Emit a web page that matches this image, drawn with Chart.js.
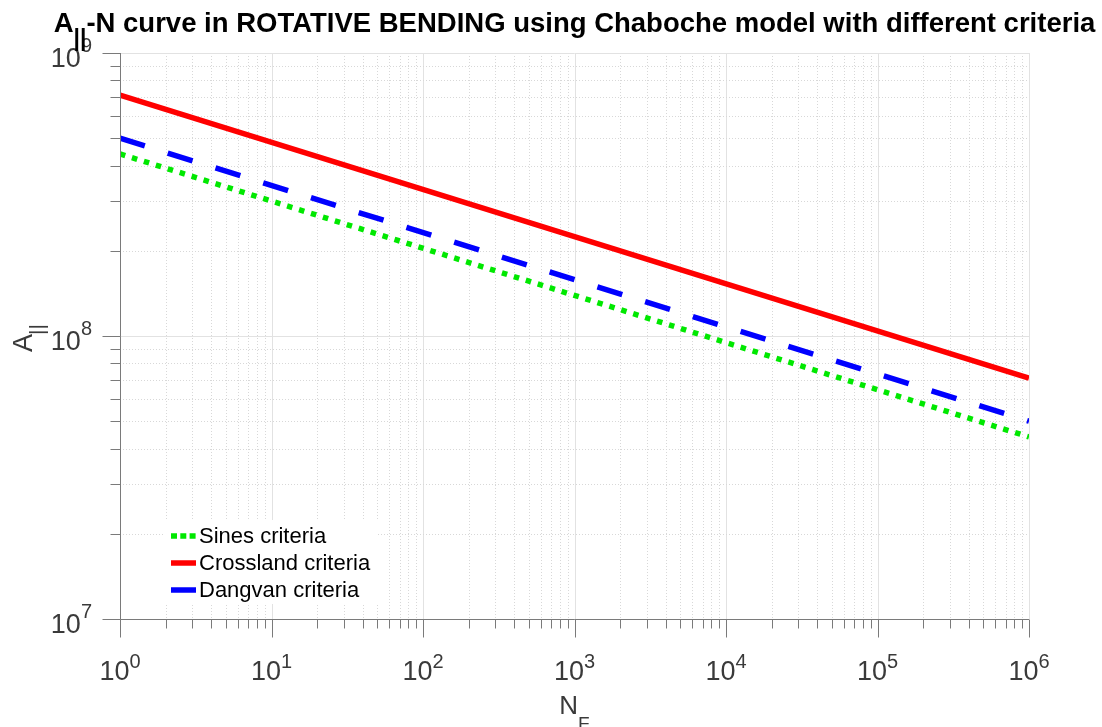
<!DOCTYPE html>
<html>
<head>
<meta charset="utf-8">
<script src="https://cdn.jsdelivr.net/npm/chart.js@4/dist/chart.umd.min.js"></script>
<style>
  html, body { margin: 0; padding: 0; background: #fff; }
  #snChart { display: block; }
</style>
</head>
<body>
<canvas id="snChart" width="1102" height="727"></canvas>
<script>
// number of cycles to failure (x) and amplitude values (y) per criterion
var cycles = [1, 1e6];
var sinesValues = [4.4e8, 4.4e7];
var crosslandValues = [7.1e8, 7.1e7];
var dangvanValues = [5.0e8, 5.0e7];

// decade exponents shown on each axis
var xTickExponents = [0, 1, 2, 3, 4, 5, 6];
var yTickExponents = [7, 8, 9];

var seriesNames = ['Sines criteria', 'Crossland criteria', 'Dangvan criteria'];

var FONT = '"Liberation Sans", Arial, Helvetica, sans-serif';
var AXIS_COLOR = '#7a7a7a';
var LABEL_COLOR = '#3a3a3a';

function toPoints(values) {
    return cycles.map(function (c, i) { return { x: c, y: values[i] }; });
}

// every 1..9 multiple inside the decades of an axis
function logGridValues(exps) {
    var out = [];
    for (var i = 0; i < exps.length; i++) {
        var e = exps[i];
        if (i === exps.length - 1) { out.push({ v: Math.pow(10, e), major: true }); break; }
        for (var m = 1; m <= 9; m++) {
            out.push({ v: m * Math.pow(10, e), major: m === 1 });
        }
    }
    return out;
}

// base + superscript, e.g. 10^3
function powWidth(ctx, base, exp, size, supSize) {
    ctx.font = size + 'px ' + FONT;
    var w1 = ctx.measureText(base).width;
    ctx.font = supSize + 'px ' + FONT;
    return w1 + ctx.measureText(exp).width;
}
function drawPow(ctx, base, exp, x, y, size, supSize, raise) {
    ctx.textAlign = 'left';
    ctx.textBaseline = 'alphabetic';
    ctx.font = size + 'px ' + FONT;
    ctx.fillText(base, x, y);
    var w1 = ctx.measureText(base).width;
    ctx.font = supSize + 'px ' + FONT;
    ctx.fillText(exp, x + w1, y - raise);
}

var logAxesPlugin = {
    id: 'logAxes',
    beforeDatasetsDraw: function (chart) {
        var ctx = chart.ctx;
        var area = chart.chartArea;
        var xs = chart.scales.x, ys = chart.scales.y;
        ctx.save();
        ctx.lineWidth = 1;
        logGridValues(xTickExponents).forEach(function (t) {
            var px = Math.round(xs.getPixelForValue(t.v)) + 0.5;
            ctx.strokeStyle = t.major ? '#e2e2e2' : '#d8d8d8';
            ctx.setLineDash(t.major ? [] : [1, 2]);
            ctx.beginPath();
            ctx.moveTo(px, area.top);
            ctx.lineTo(px, area.bottom);
            ctx.stroke();
        });
        logGridValues(yTickExponents).forEach(function (t) {
            var py = Math.round(ys.getPixelForValue(t.v)) + 0.5;
            ctx.strokeStyle = t.major ? '#e2e2e2' : '#d8d8d8';
            ctx.setLineDash(t.major ? [] : [1, 2]);
            ctx.beginPath();
            ctx.moveTo(area.left, py);
            ctx.lineTo(area.right, py);
            ctx.stroke();
        });
        ctx.restore();
    },
    afterDatasetsDraw: function (chart) {
        var ctx = chart.ctx;
        var area = chart.chartArea;
        var xs = chart.scales.x, ys = chart.scales.y;
        ctx.save();

        // axis lines and outward ticks
        ctx.strokeStyle = AXIS_COLOR;
        ctx.lineWidth = 1;
        ctx.setLineDash([]);
        var bx = Math.round(area.left) + 0.5;
        var by = Math.round(area.bottom) + 0.5;
        ctx.beginPath();
        ctx.moveTo(bx, area.top);
        ctx.lineTo(bx, by);
        ctx.lineTo(area.right, by);
        ctx.stroke();
        logGridValues(xTickExponents).forEach(function (t) {
            var px = Math.round(xs.getPixelForValue(t.v)) + 0.5;
            ctx.beginPath();
            ctx.moveTo(px, by);
            ctx.lineTo(px, by + (t.major ? 18 : 9));
            ctx.stroke();
        });
        logGridValues(yTickExponents).forEach(function (t) {
            var py = Math.round(ys.getPixelForValue(t.v)) + 0.5;
            ctx.beginPath();
            ctx.moveTo(bx, py);
            ctx.lineTo(bx - (t.major ? 18 : 10), py);
            ctx.stroke();
        });

        // tick labels
        ctx.fillStyle = LABEL_COLOR;
        xTickExponents.forEach(function (e) {
            var px = xs.getPixelForValue(Math.pow(10, e));
            var w = powWidth(ctx, '10', String(e), 27, 20);
            drawPow(ctx, '10', String(e), px - w / 2, area.bottom + 61, 27, 20, 12);
        });
        yTickExponents.forEach(function (e) {
            var py = ys.getPixelForValue(Math.pow(10, e));
            var w = powWidth(ctx, '10', String(e), 27, 20);
            drawPow(ctx, '10', String(e), area.left - 28 - w, py + 14, 27, 20, 15);
        });

        // axis titles
        ctx.font = '26px ' + FONT;
        var wN = ctx.measureText('N').width;
        ctx.font = '19px ' + FONT;
        var wF = ctx.measureText('F').width;
        var cx = (area.left + area.right) / 2 - (wN + wF) / 2;
        ctx.font = '26px ' + FONT;
        ctx.fillText('N', cx, 714);
        ctx.font = '19px ' + FONT;
        ctx.fillText('F', cx + wN, 730);

        ctx.save();
        ctx.translate(32, 352);
        ctx.rotate(-Math.PI / 2);
        ctx.font = '27px ' + FONT;
        ctx.fillText('A', 0, 0);
        var wA = ctx.measureText('A').width;
        ctx.font = '21px ' + FONT;
        ctx.fillText('||', wA - 1, 12);
        ctx.restore();

        // title
        ctx.fillStyle = '#000';
        var rest = '-N curve in ROTATIVE BENDING using Chaboche model with different criteria';
        ctx.font = 'bold 27.5px ' + FONT;
        var wTA = ctx.measureText('A').width;
        var wRest = ctx.measureText(rest).width;
        ctx.font = 'bold 23px ' + FONT;
        var wSub = ctx.measureText('||').width;
        var tx = (area.left + area.right) / 2 - (wTA + wSub + wRest) / 2;
        ctx.font = 'bold 27.5px ' + FONT;
        ctx.fillText('A', tx, 32);
        ctx.fillText(rest, tx + wTA + wSub, 32);
        ctx.font = 'bold 23px ' + FONT;
        ctx.fillText('||', tx + wTA, 46);

        // legend inside the axes, lower left
        ctx.fillStyle = '#fff';
        ctx.fillRect(164, 520, 214, 84);
        var ds = chart.data.datasets;
        ds.forEach(function (d, i) {
            var ly = 536 + i * 27;
            ctx.strokeStyle = d.borderColor;
            ctx.lineWidth = 5.5;
            ctx.lineCap = 'butt';
            ctx.setLineDash(i === 0 ? [6, 3.3] : []);
            ctx.beginPath();
            ctx.moveTo(171, ly);
            ctx.lineTo(196, ly);
            ctx.stroke();
            ctx.setLineDash([]);
            ctx.fillStyle = '#000';
            ctx.font = '22px ' + FONT;
            ctx.textBaseline = 'middle';
            ctx.fillText(d.label, 199, ly + 1);
            ctx.textBaseline = 'alphabetic';
        });

        ctx.restore();
    }
};

var ctx = document.getElementById('snChart').getContext('2d');
var chart = new Chart(ctx, {
    type: 'line',
    data: {
        datasets: [{
            label: seriesNames[0],
            data: toPoints(sinesValues),
            borderColor: '#00e800',
            borderWidth: 5.5,
            borderDash: [5.5, 7],
            borderCapStyle: 'butt',
            pointRadius: 0,
            fill: false
        }, {
            label: seriesNames[1],
            data: toPoints(crosslandValues),
            borderColor: '#ff0000',
            borderWidth: 5.5,
            pointRadius: 0,
            fill: false
        }, {
            label: seriesNames[2],
            data: toPoints(dangvanValues),
            borderColor: '#0000ff',
            borderWidth: 5.5,
            borderDash: [26, 24],
            borderCapStyle: 'butt',
            pointRadius: 0,
            fill: false
        }]
    },
    options: {
        responsive: false,
        devicePixelRatio: 1,
        animation: false,
        layout: {
            padding: { left: 120, top: 53, right: 73, bottom: 108 }
        },
        scales: {
            x: { type: 'logarithmic', min: 1, max: 1e6, display: false },
            y: { type: 'logarithmic', min: 1e7, max: 1e9, display: false }
        },
        plugins: {
            legend: { display: false },
            title: { display: false },
            tooltip: { enabled: false }
        }
    },
    plugins: [logAxesPlugin]
});
</script>
</body>
</html>
